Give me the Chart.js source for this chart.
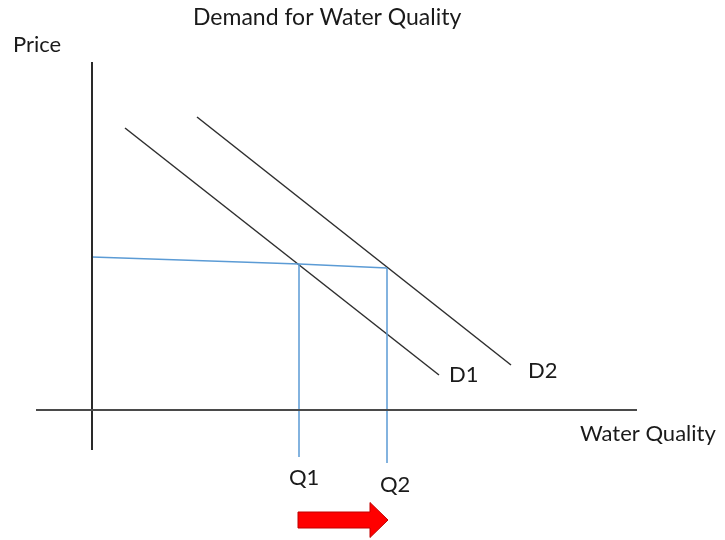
<!DOCTYPE html>
<html>
<head>
<meta charset="utf-8">
<script src="https://cdn.jsdelivr.net/npm/chart.js@4.4.0/dist/chart.umd.min.js"></script>
<style>
body{margin:0;background:#fff;}
</style>
</head>
<body>
<canvas id="myChart" width="725" height="540"></canvas>
<script>
// diagram units: quantity on x, price on y (origin where the axes cross)
let xAxisLine=[{x:-5.6,y:0},{x:54.5,y:0}];
let yAxisLine=[{x:0,y:34.8},{x:0,y:-4.0}];
let demand1=[{x:3.3,y:28.2},{x:34.7,y:3.5}];
let demand2=[{x:10.5,y:29.3},{x:41.9,y:4.5}];
let priceLine=[{x:0,y:15.3},{x:20.7,y:14.6},{x:29.5,y:14.2}];
let q1Line=[{x:20.7,y:14.6},{x:20.7,y:-4.7}];
let q2Line=[{x:29.5,y:14.2},{x:29.5,y:-5.3}];
let shiftArrow={from:20.6,to:29.6,y:-11.0,headAt:27.8,body:0.8,head:1.75};

// text labels: [text, x, y, size]
let labels=[
    ["Demand for Water Quality",10.1,38.5,23],
    ["Price",-7.9,35.8,22],
    ["Water Quality",48.8,-3.1,22],
    ["D1",35.7,2.8,22],
    ["D2",43.6,3.2,22],
    ["Q1",19.7,-7.5,22],
    ["Q2",28.8,-8.2,22]
];

function lineSet(data,color,width){
    return {data:data,showLine:true,borderColor:color,borderWidth:width,pointRadius:0,fill:false};
}

const extras={
    id:'extras',
    afterDatasetsDraw(chart){
        const ctx=chart.ctx;
        const xs=chart.scales.x, ys=chart.scales.y;
        // red arrow showing the shift
        const a=shiftArrow;
        ctx.save();
        ctx.beginPath();
        ctx.moveTo(xs.getPixelForValue(a.from),ys.getPixelForValue(a.y+a.body));
        ctx.lineTo(xs.getPixelForValue(a.headAt),ys.getPixelForValue(a.y+a.body));
        ctx.lineTo(xs.getPixelForValue(a.headAt),ys.getPixelForValue(a.y+a.head));
        ctx.lineTo(xs.getPixelForValue(a.to),ys.getPixelForValue(a.y));
        ctx.lineTo(xs.getPixelForValue(a.headAt),ys.getPixelForValue(a.y-a.head));
        ctx.lineTo(xs.getPixelForValue(a.headAt),ys.getPixelForValue(a.y-a.body));
        ctx.lineTo(xs.getPixelForValue(a.from),ys.getPixelForValue(a.y-a.body));
        ctx.closePath();
        ctx.fillStyle='#ff0000';
        ctx.fill();
        ctx.strokeStyle='#c00000';
        ctx.lineWidth=1;
        ctx.stroke();
        // labels
        ctx.fillStyle='#1a1a1a';
        ctx.textBaseline='alphabetic';
        ctx.textAlign='left';
        labels.forEach(l=>{
            ctx.font=l[3]+'px Lato';
            ctx.fillText(l[0],xs.getPixelForValue(l[1]),ys.getPixelForValue(l[2]));
        });
        ctx.restore();
    }
};

const ctx=document.getElementById('myChart').getContext('2d');
const myChart=new Chart(ctx,{
    type:'scatter',
    data:{
        datasets:[
            lineSet(xAxisLine,'#4a4a4a',2),
            lineSet(yAxisLine,'#2a2a2a',2),
            lineSet(priceLine,'#5b9bd5',1.5),
            lineSet(q1Line,'#5b9bd5',1.5),
            lineSet(q2Line,'#5b9bd5',1.5),
            lineSet(demand1,'#2e2e2e',1.5),
            lineSet(demand2,'#2e2e2e',1.5)
        ]
    },
    options:{
        responsive:false,
        animation:false,
        layout:{padding:0},
        plugins:{legend:{display:false},tooltip:{enabled:false},title:{display:false}},
        scales:{
            x:{type:'linear',min:-9.2,max:63.3,display:false},
            y:{type:'linear',min:-13,max:41,display:false}
        }
    },
    plugins:[extras]
});
</script>
</body>
</html>
